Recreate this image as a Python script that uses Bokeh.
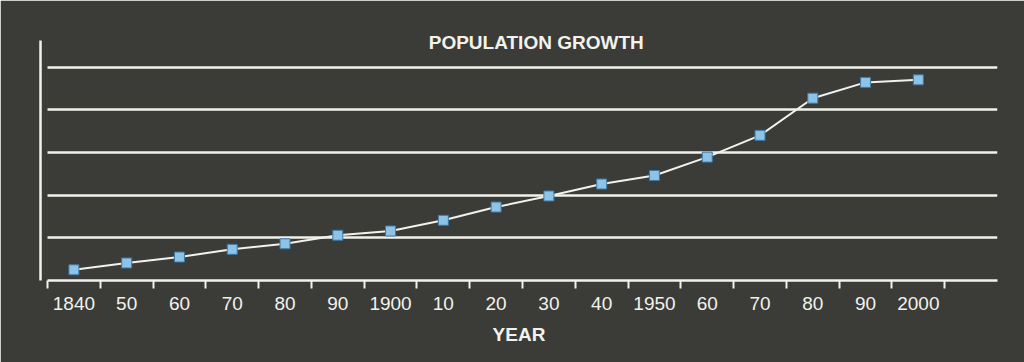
from bokeh.plotting import figure
from bokeh.models import FixedTicker, Range1d, Label
from bokeh.embed import file_html
from bokeh.resources import INLINE

# Census decades and population (arbitrary units, gridline every 10)
years = [1840, 1850, 1860, 1870, 1880, 1890, 1900, 1910, 1920,
         1930, 1940, 1950, 1960, 1970, 1980, 1990, 2000]
population = [2.5, 4.1, 5.5, 7.3, 8.6, 10.6, 11.6, 14.1, 17.2,
              19.8, 22.6, 24.6, 28.9, 34.0, 42.7, 46.4, 47.0]
tick_labels = ["1840", "50", "60", "70", "80", "90", "1900", "10", "20",
               "30", "40", "1950", "60", "70", "80", "90", "2000"]
grid_levels = [10, 20, 30, 40, 50]

BG = "#3b3b38"
INK = "#f2f2ec"
FONT = "Liberation Sans"

p = figure(width=1024, height=362, output_backend="svg", toolbar_location=None,
           x_range=Range1d(1833.67, 2015), y_range=Range1d(0, 60.9),
           background_fill_color=BG, border_fill_color=BG,
           min_border_left=40, min_border_right=27,
           min_border_top=20, min_border_bottom=82)
# frame outline in the background colour hides the edge between the fills
p.outline_line_color = BG
p.outline_line_width = 2

# x axis: labels centred on each decade, tick marks between decades
xt = FixedTicker(ticks=years, minor_ticks=[y - 5 for y in years] + [years[-1] + 5])
p.xaxis.ticker = xt
p.xaxis.bounds = (years[0] - 5, 2015)
p.xaxis.major_label_overrides = {y: t for y, t in zip(years, tick_labels)}
p.xaxis.major_tick_out = 0
p.xaxis.major_tick_in = 0
p.xaxis.minor_tick_out = 8
p.xaxis.minor_tick_in = 0
p.xaxis.minor_tick_line_color = INK
p.xaxis.minor_tick_line_width = 2
p.xaxis.axis_line_color = INK
p.xaxis.axis_line_width = 2.5
p.xaxis.major_label_text_color = INK
p.xaxis.major_label_text_font = FONT
p.xaxis.major_label_text_font_size = "19px"
p.xaxis.major_label_standoff = 8
p.xaxis.axis_label = "YEAR"
p.xaxis.axis_label_text_color = INK
p.xaxis.axis_label_text_font = FONT
p.xaxis.axis_label_text_font_style = "bold"
p.xaxis.axis_label_text_font_size = "19px"
p.xaxis.axis_label_standoff = 11

# y axis: plain vertical line, no ticks or labels
p.yaxis.ticker = FixedTicker(ticks=[])
p.yaxis.bounds = (0, 56.2)
p.yaxis.major_tick_out = 0
p.yaxis.major_tick_in = 0
p.yaxis.minor_tick_out = 0
p.yaxis.minor_tick_in = 0
p.yaxis.major_label_text_font_size = "0px"
p.yaxis.axis_line_color = INK
p.yaxis.axis_line_width = 2.5

# horizontal gridlines
p.xgrid.grid_line_color = None
p.ygrid.ticker = FixedTicker(ticks=grid_levels)
p.ygrid.cross_bounds = (years[0] - 5, 2015)
p.ygrid.grid_line_color = INK
p.ygrid.grid_line_width = 2.5

# population series
p.line(years, population, line_color=INK, line_width=2)
p.scatter(years, population, marker="square", size=10,
          fill_color="#8cc3e6", line_color="#3f78a6", line_width=1)

p.add_layout(Label(x=1927.6, y=55.7, text="POPULATION GROWTH",
                   text_align="center", text_baseline="middle",
                   text_color=INK, text_font=FONT, text_font_style="bold",
                   text_font_size="19px"))

html = file_html(p, INLINE)
html = html.replace("<body>", '<body style="margin:0;background:%s">' % BG, 1)
open("out.html", "w").write(html)
